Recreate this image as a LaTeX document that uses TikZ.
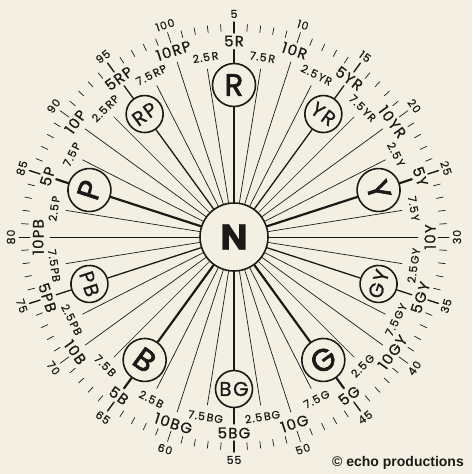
\documentclass[tikz,border=0pt]{standalone}
\usepackage{fontspec}
\setmainfont{Poppins}[LetterSpace=8,FakeBold=0.7]
\setsansfont{Liberation Sans}
\newfontfamily\letterfont{Poppins}[FakeBold=2]
\definecolor{paper}{RGB}{243,239,226}
\definecolor{ink}{RGB}{28,26,24}

\tikzset{
  huering/.style={circle,draw=ink,fill=paper,line width=1.6pt,inner sep=0pt,text=ink},
  mainhue/.style={huering,minimum size=43pt,font=\letterfont\fontsize{31}{31}\selectfont},
  midhue/.style={huering,minimum size=37pt,font=\fontsize{20}{20}\selectfont},
  bigname/.style={text=ink,inner sep=0pt,font=\fontsize{15}{15}\selectfont},
  smallname/.style={text=ink,inner sep=0pt,font=\fontsize{11}{11}\selectfont},
  spoke/.style={draw=ink,line width=0.7pt},
}
% angle -> \labang (normalised) and \labrot (readable text)
\newcommand\rotfor[1]{%
  \pgfmathsetmacro\labang{#1}%
  \pgfmathsetmacro\labang{\labang<=-180 ? \labang+360 : \labang}%
  \pgfmathsetmacro\labrot{\labang>0 ? \labang-90 : \labang+90}}

\begin{document}
\begin{tikzpicture}[x=1pt,y=1pt,line cap=round]
\fill[paper] (-234,-237) rectangle (238,237);
\useasboundingbox (-234,-237) rectangle (238,237);

\node[huering,minimum size=68pt,font=\fontsize{36}{36}\selectfont\bfseries] (N) at (0,0) {N};

% scale of 100 steps
\foreach \h in {1,...,100} {
  \pgfmathsetmacro\ta{90-(\h-5)*3.6}
  \pgfmathsetmacro\rin{mod(\h,5)==0 ? 204 : 206}
  \pgfmathsetmacro\rout{mod(\h,5)==0 ? 215 : 213}
  \pgfmathsetmacro\tw{mod(\h,10)==5 ? 1.4 : 0.7}
  \draw[ink,line width=\tw pt] (\ta:\rin) -- (\ta:\rout);
}
\foreach \h in {5,10,...,100} {
  \rotfor{90-(\h-5)*3.6}
  \node[smallname,rotate=\labrot] (n\h) at (\labang:223) {\h};
}

% hue families
\foreach \hn [count=\k from 0] in {R,YR,Y,GY,G,BG,B,PB,P,RP} {
  \ifodd\k \def\cst{midhue}\def\lw{1.3pt}\else \def\cst{mainhue}\def\lw{2.2pt}\fi
  \rotfor{90-36*\k}
  \node[\cst,rotate=\labrot] (c\hn) at (\labang:152) {\hn};
  \coordinate (e\hn) at (\labang:187);
  \draw[spoke,line width=\lw] (N) -- (c\hn);
  \draw[spoke,line width=\lw] (c\hn) -- (e\hn);
  \node[bigname,rotate=\labrot] (l5\hn) at (\labang:196) {5\hn};
  % 10
  \rotfor{90-36*\k-18}
  \coordinate (t\hn) at (\labang:184);
  \draw[spoke] (N) -- (t\hn);
  \node[bigname,rotate=\labrot] (l10\hn) at (\labang:196) {10\hn};
  % 2.5
  \rotfor{90-36*\k+9}
  \coordinate (a\hn) at (\labang:170);
  \draw[spoke] (N) -- (a\hn);
  \node[smallname,rotate=\labrot] (la\hn) at (\labang:182) {2.5\,\hn};
  % 7.5
  \rotfor{90-36*\k-9}
  \coordinate (b\hn) at (\labang:170);
  \draw[spoke] (N) -- (b\hn);
  \node[smallname,rotate=\labrot] (lb\hn) at (\labang:182) {7.5\,\hn};
}

\node[text=ink,font=\sffamily\bfseries\fontsize{14}{14}\selectfont] (copy) at (164,-226) {© echo productions};
\end{tikzpicture}
\end{document}
